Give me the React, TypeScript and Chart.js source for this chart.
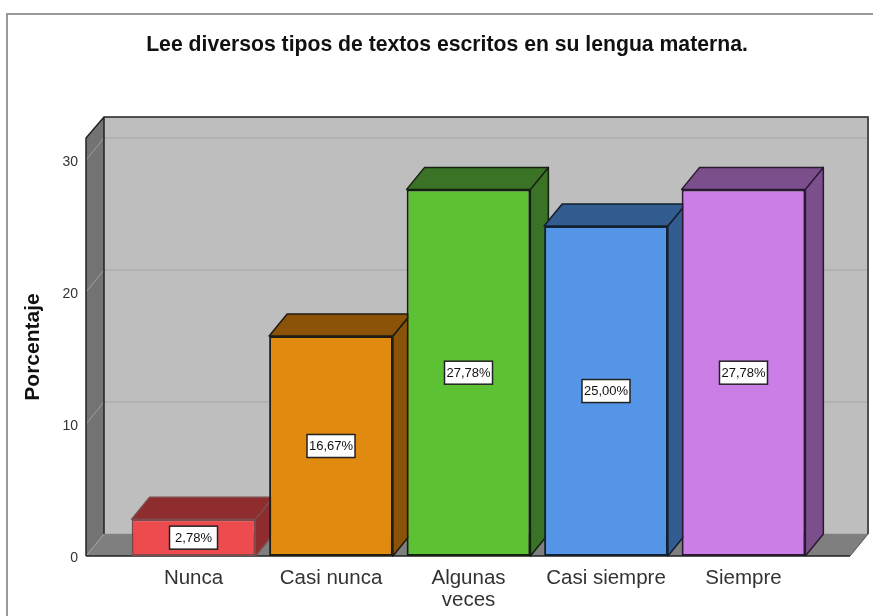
import React, { useEffect, useRef } from "react";
import { Chart, registerables } from "chart.js";

Chart.register(...registerables);

const categories: (string | string[])[] = ["Nunca", "Casi nunca", ["Algunas", "veces"], "Casi siempre", "Siempre"];
const percentages = [2.78, 16.67, 27.78, 25.0, 27.78];
const frontColors = ["#EE4B4F", "#E18A10", "#5CC234", "#5595E8", "#CB7EE5"];
const shadeColors = ["#8F2C2E", "#8B5308", "#3A7325", "#335C91", "#7B4F8C"];
const edgeColors = ["#7E4A4C", "#1E1A14", "#14200F", "#12202F", "#2A1A30"];
const titleText = "Lee diversos tipos de textos escritos en su lengua materna.";
const yAxisTitle = "Porcentaje";
const yMax = 31.67;
const xMin = -0.782;
const xWallEnd = 4.775;
const xMax = 4.942;
const DX = 18;
const DY = 22;
const FONT = "'Liberation Sans', Arial, sans-serif";

function poly(ctx: CanvasRenderingContext2D, pts: number[][], fill: string, stroke?: string, lw = 1.5) {
  ctx.beginPath();
  pts.forEach((p, i) => (i ? ctx.lineTo(p[0], p[1]) : ctx.moveTo(p[0], p[1])));
  ctx.closePath();
  ctx.fillStyle = fill;
  ctx.fill();
  if (stroke) {
    ctx.strokeStyle = stroke;
    ctx.lineWidth = lw;
    ctx.lineJoin = "round";
    ctx.stroke();
  }
}

const scene3d = {
  id: "scene3d",
  beforeDraw(chart: any) {
    const { ctx, width, height } = chart;
    ctx.save();
    ctx.fillStyle = "#FFFFFF";
    ctx.fillRect(0, 0, width, height);
    ctx.strokeStyle = "#9A9A9A";
    ctx.lineWidth = 2;
    ctx.beginPath();
    ctx.moveTo(7, height);
    ctx.lineTo(7, 14);
    ctx.lineTo(width, 14);
    ctx.stroke();
    ctx.restore();
  },
  beforeDatasetsDraw(chart: any) {
    const { ctx, chartArea, scales } = chart;
    const left = chartArea.left;
    const right = scales.x.getPixelForValue(xWallEnd);
    const top = chartArea.top;
    const bottom = chartArea.bottom;
    ctx.save();
    // back wall
    poly(ctx, [[left + DX, top - DY + 1], [right + DX, top - DY + 1], [right + DX, bottom - DY], [left + DX, bottom - DY]], "#BEBEBE");
    // grid on back wall and left wall
    scales.y.ticks.forEach((t: any) => {
      const y = scales.y.getPixelForValue(t.value);
      ctx.strokeStyle = "#B2B2B2";
      ctx.lineWidth = 2;
      ctx.beginPath();
      ctx.moveTo(left + DX, y - DY);
      ctx.lineTo(right + DX, y - DY);
      ctx.stroke();
    });
    // floor
    poly(ctx, [[left, bottom], [left + DX, bottom - DY], [right + DX, bottom - DY], [right, bottom]], "#7F7F7F");
    // left wall
    poly(ctx, [[left, top], [left + DX, top - DY + 1], [left + DX, bottom - DY], [left, bottom]], "#737373");
    scales.y.ticks.forEach((t: any) => {
      const y = scales.y.getPixelForValue(t.value);
      ctx.strokeStyle = "#A0A0A0";
      ctx.lineWidth = 1;
      ctx.beginPath();
      ctx.moveTo(left, y);
      ctx.lineTo(left + DX, y - DY);
      ctx.stroke();
    });
    // outline
    ctx.strokeStyle = "#222222";
    ctx.lineWidth = 1.5;
    ctx.beginPath();
    ctx.moveTo(left, bottom);
    ctx.lineTo(left, top);
    ctx.lineTo(left + DX, top - DY + 1);
    ctx.lineTo(right + DX, top - DY + 1);
    ctx.lineTo(right + DX, bottom - DY);
    ctx.moveTo(left + DX, top - DY + 1);
    ctx.lineTo(left + DX, bottom - DY);
    ctx.moveTo(left, bottom);
    ctx.lineTo(right, bottom);
    ctx.stroke();
    ctx.strokeStyle = "#555555";
    ctx.lineWidth = 1;
    ctx.beginPath();
    ctx.moveTo(right, bottom);
    ctx.lineTo(right + DX, bottom - DY);
    ctx.stroke();
    // bar tops and sides
    const meta = chart.getDatasetMeta(0);
    meta.data.forEach((bar: any, i: number) => {
      const { x, y, base, width } = bar.getProps(["x", "y", "base", "width"], true);
      const l = x - width / 2;
      const r = x + width / 2;
      poly(ctx, [[r, y], [r + DX, y - DY], [r + DX, base - DY], [r, base]], shadeColors[i], edgeColors[i]);
      poly(ctx, [[l, y], [l + DX, y - DY], [r + DX, y - DY], [r, y]], shadeColors[i], edgeColors[i]);
    });
    ctx.restore();
  },
  afterDatasetsDraw(chart: any) {
    const { ctx } = chart;
    const meta = chart.getDatasetMeta(0);
    ctx.save();
    ctx.font = `13px ${FONT}`;
    ctx.textAlign = "center";
    ctx.textBaseline = "middle";
    meta.data.forEach((bar: any, i: number) => {
      const { x, y, base } = bar.getProps(["x", "y", "base"], true);
      const cy = (y + base) / 2;
      const w = 48;
      const h = 23;
      ctx.fillStyle = "#FFFFFF";
      ctx.fillRect(x - w / 2, cy - h / 2, w, h);
      ctx.strokeStyle = "#222222";
      ctx.lineWidth = 1.5;
      ctx.strokeRect(x - w / 2, cy - h / 2, w, h);
      ctx.fillStyle = "#111111";
      ctx.fillText(percentages[i].toFixed(2).replace(".", ",") + "%", x, cy + 0.5);
    });
    ctx.restore();
  },
};

export default function App() {
  const ref = useRef<HTMLCanvasElement>(null);
  useEffect(() => {
    const chart = new Chart(ref.current as HTMLCanvasElement, {
      type: "bar",
      data: {
        datasets: [
          {
            data: percentages.map((y, x) => ({ x, y })),
            backgroundColor: frontColors,
            borderColor: edgeColors,
            borderWidth: 2,
            borderSkipped: false,
            barPercentage: 0.9,
            categoryPercentage: 1,
          },
        ],
      },
      options: {
        animation: false,
        responsive: false,
        events: [],
        layout: { padding: { left: 21, right: 0, top: 0, bottom: 0 } },
        plugins: {
          legend: { display: false },
          tooltip: { enabled: false },
          title: {
            display: true,
            text: titleText,
            color: "#111111",
            font: { family: FONT, size: 21.2, weight: "bold", lineHeight: 1.2 },
            padding: { top: 32, bottom: 80.6 },
          },
        },
        scales: {
          x: {
            type: "linear",
            offset: false,
            min: xMin,
            max: xMax,
            grid: { display: false, drawTicks: false, offset: false },
            border: { display: false },
            afterBuildTicks: (s: any) => {
              s.ticks = categories.map((_, value) => ({ value }));
            },
            afterFit: (s: any) => {
              s.height = 60;
            },
            ticks: {
              autoSkip: false,
              maxRotation: 0,
              minRotation: 0,
              includeBounds: false,
              padding: 12,
              color: "#333333",
              font: { family: FONT, size: 20.5, lineHeight: 1.05 },
              callback: (v: any) => categories[v],
            },
          },
          y: {
            min: 0,
            max: yMax,
            grid: { display: false, drawTicks: false },
            border: { display: false },
            afterFit: (s: any) => {
              s.width = 65;
            },
            title: {
              display: true,
              text: yAxisTitle,
              color: "#111111",
              font: { family: FONT, size: 21, weight: "bold", lineHeight: 1.2 },
              padding: { top: 0, bottom: 0 },
            },
            ticks: {
              stepSize: 10,
              includeBounds: false,
              padding: 8,
              labelOffset: 2,
              color: "#333333",
              font: { family: FONT, size: 14 },
            },
          },
        },
      },
      plugins: [scene3d],
    } as any);
    return () => chart.destroy();
  }, []);
  return (
    <div style={{ position: "fixed", left: 0, top: 0, width: 873, height: 616 }}>
      <canvas ref={ref} width={873} height={616} style={{ display: "block" }} />
    </div>
  );
}
